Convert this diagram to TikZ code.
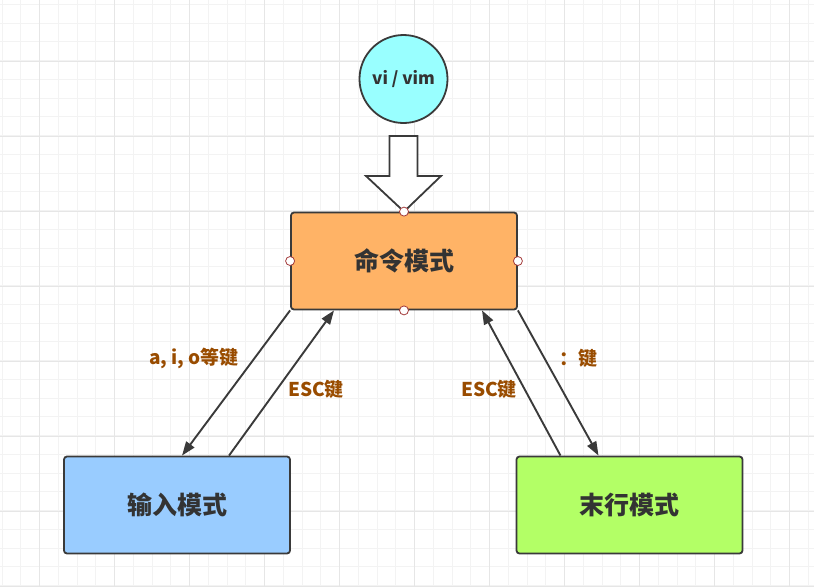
\documentclass[tikz,border=0pt]{standalone}
\usepackage{fontspec}
\setmainfont{Noto Sans CJK SC}
\usetikzlibrary{arrows.meta}
\definecolor{linegray}{HTML}{3A3A3A}
\definecolor{textgray}{HTML}{333333}
\definecolor{keybrown}{HTML}{994C00}
\definecolor{handlered}{HTML}{A33A3A}
\definecolor{gridminor}{HTML}{F3F3F3}
\definecolor{gridmajor}{HTML}{E6E6E6}
\definecolor{vicyan}{HTML}{99FFFF}
\definecolor{cmdorange}{HTML}{FFB366}
\definecolor{inblue}{HTML}{99CCFF}
\definecolor{lastgreen}{HTML}{B3FF66}

\begin{document}
\begin{tikzpicture}[x=1pt,y=-1pt,
  box/.style={draw=linegray,line width=1.8pt,rounded corners=3pt,
    minimum width=226pt,minimum height=97pt,text=textgray,
    font=\bfseries\fontsize{25}{29}\selectfont},
  lbl/.style={text=keybrown,font=\bfseries\fontsize{19}{22}\selectfont},
  link/.style={draw=linegray,line width=1.9pt,-{Triangle[length=14pt,width=10pt]}},
  handle/.style={draw=handlered,fill=white,line width=0.8pt}]
  \useasboundingbox (0,0) rectangle (814,587);
  % background grid
  \foreach \i in {0,...,43} \draw[gridminor,line width=0.8pt] (2+18.75*\i,0) -- (2+18.75*\i,587);
  \foreach \i in {0,...,31} \draw[gridminor,line width=0.8pt] (0,4.3+18.75*\i) -- (814,4.3+18.75*\i);
  \foreach \i in {0,...,10} \draw[gridmajor,line width=0.8pt] (39.5+75*\i,0) -- (39.5+75*\i,587);
  \foreach \i in {0,...,7} \draw[gridmajor,line width=0.8pt] (0,61+75*\i) -- (814,61+75*\i);

  \node[draw=linegray,line width=1.8pt,circle,fill=vicyan,minimum size=88pt,
    text=textgray,font=\bfseries\fontsize{17}{20}\selectfont] (vi) at (403.5,79) {vi / vim};
  \node[box,fill=cmdorange] (cmd) at (404,261) {命令模式};
  \node[box,fill=inblue] (input) at (177,505) {输入模式};
  \node[box,fill=lastgreen] (lastline) at (629.5,505) {末行模式};

  % hollow arrow from vi down to the command box
  \draw[linegray,line width=1.8pt,fill=white,line join=miter]
    (389.5,136) -- (417.5,136) -- (417.5,176) -- (441,176) -- (cmd.north)
    -- (366,176) -- (389.5,176) -- cycle;

  \draw[link] (cmd.south west) -- ([xshift=5pt]input.north);
  \draw[link] ([xshift=52pt]input.north) -- ([xshift=-70pt]cmd.south);
  \draw[link] ([xshift=-69pt]lastline.north) -- ([xshift=78pt]cmd.south);
  \draw[link] (cmd.south east) -- ([xshift=-31pt]lastline.north);

  \foreach \a in {north,south,east,west}
    \draw[handle] (cmd.\a) circle (4.5);

  \node[lbl] (k1) at (194,358) {a, i, o等键};
  \node[lbl] (k2) at (316,389) {ESC键};
  \node[lbl] (k3) at (489,389) {ESC键};
  \node[lbl] (k4) at (578,358) {：键};
\end{tikzpicture}
\end{document}
